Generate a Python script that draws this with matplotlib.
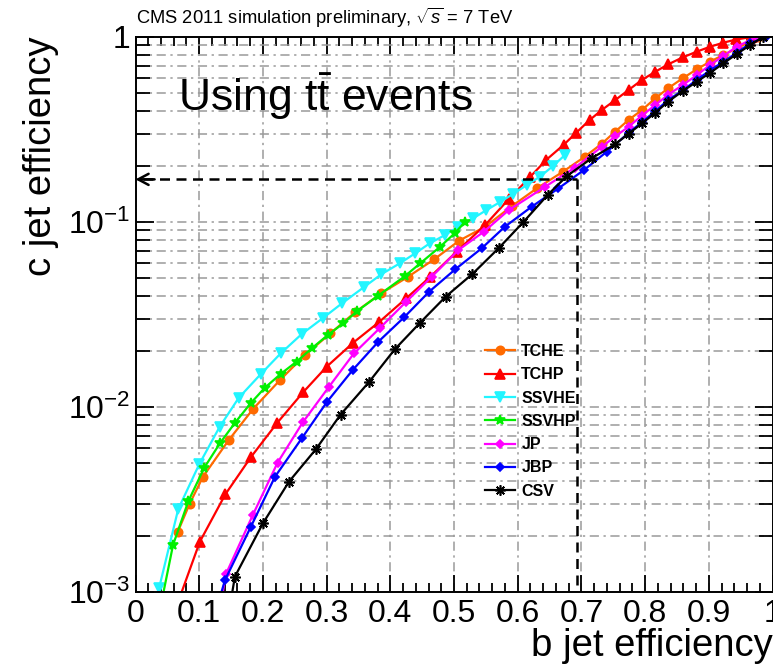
import matplotlib
matplotlib.use('Agg')
import matplotlib.pyplot as plt
from matplotlib import font_manager as fm
from matplotlib.ticker import FixedLocator, MultipleLocator, NullFormatter

# ---------------- data ----------------
tche_b = [0.066, 0.085, 0.106, 0.146, 0.185, 0.227, 0.266, 0.306, 0.345, 0.386, 0.428, 0.469, 0.508, 0.549,
          0.591, 0.630, 0.671, 0.705, 0.732, 0.753, 0.774, 0.795, 0.816, 0.836, 0.859, 0.881, 0.902, 0.923,
          0.944, 0.965, 0.978]
tche_c = [0.0021, 0.0030, 0.0042, 0.0066, 0.0098, 0.0140, 0.0191, 0.0250, 0.0326, 0.0412, 0.0506, 0.0629,
          0.0792, 0.0944, 0.122, 0.152, 0.187, 0.225, 0.265, 0.308, 0.356, 0.403, 0.466, 0.528, 0.598, 0.669,
          0.736, 0.800, 0.869, 0.944, 1.0]

tchp_b = [0.0725, 0.101, 0.141, 0.181, 0.222, 0.263, 0.300, 0.342, 0.383, 0.425, 0.463, 0.504, 0.549, 0.586,
          0.620, 0.645, 0.672, 0.692, 0.713, 0.732, 0.753, 0.774, 0.795, 0.816, 0.836, 0.859, 0.881, 0.902,
          0.923, 0.943, 0.968]
tchp_c = [0.0010, 0.00187, 0.00337, 0.00535, 0.00817, 0.0120, 0.0165, 0.0223, 0.0289, 0.0387, 0.0506, 0.0691,
          0.0964, 0.133, 0.176, 0.217, 0.261, 0.304, 0.356, 0.403, 0.456, 0.517, 0.586, 0.649, 0.711, 0.776,
          0.833, 0.886, 0.932, 0.970, 1.0]

ssvhe_b = [0.037, 0.067, 0.100, 0.132, 0.162, 0.197, 0.228, 0.261, 0.294, 0.324, 0.358, 0.386, 0.415, 0.439,
           0.462, 0.486, 0.507, 0.530, 0.551, 0.572, 0.593, 0.614, 0.635, 0.655, 0.674]
ssvhe_c = [0.00105, 0.0028, 0.0049, 0.0078, 0.0112, 0.0151, 0.0195, 0.0248, 0.0302, 0.0363, 0.0443, 0.0522,
           0.0598, 0.0677, 0.0767, 0.0851, 0.0944, 0.1047, 0.116, 0.128, 0.142, 0.158, 0.176, 0.200, 0.230]

ssvhp_b = [0.044, 0.059, 0.083, 0.108, 0.133, 0.156, 0.181, 0.203, 0.228, 0.253, 0.277, 0.302, 0.326, 0.348,
           0.381, 0.423, 0.447, 0.478, 0.502, 0.517]
ssvhp_c = [0.0010, 0.0018, 0.0031, 0.0047, 0.0064, 0.0082, 0.0105, 0.0127, 0.0151, 0.0176, 0.0208, 0.0245,
           0.0283, 0.0330, 0.0400, 0.0510, 0.0598, 0.0734, 0.0875, 0.100]

jp_b = [0.137, 0.142, 0.184, 0.223, 0.263, 0.304, 0.343, 0.384, 0.425, 0.465, 0.507, 0.547, 0.586, 0.643,
        0.690, 0.732, 0.753, 0.774, 0.795, 0.816, 0.836, 0.859, 0.881, 0.902, 0.923, 0.944, 0.975]
jp_c = [0.0010, 0.00125, 0.0026, 0.0050, 0.0083, 0.0129, 0.0195, 0.0268, 0.0371, 0.0506, 0.0706, 0.0887,
        0.116, 0.155, 0.197, 0.255, 0.290, 0.327, 0.376, 0.429, 0.487, 0.550, 0.622, 0.706, 0.790, 0.887, 1.0]

jbp_b = [0.135, 0.1405, 0.181, 0.219, 0.261, 0.301, 0.341, 0.381, 0.4215, 0.461, 0.502, 0.5435, 0.580, 0.622,
         0.664, 0.704, 0.740, 0.774, 0.795, 0.816, 0.836, 0.859, 0.881, 0.902, 0.923, 0.944, 0.965, 0.99]
jbp_c = [0.0010, 0.00116, 0.00225, 0.0042, 0.00677, 0.0107, 0.01585, 0.0225, 0.0305, 0.0420, 0.0555, 0.0721,
         0.0944, 0.121, 0.152, 0.191, 0.240, 0.303, 0.347, 0.397, 0.456, 0.514, 0.586, 0.660, 0.736, 0.822,
         0.925, 1.0]

csv_b = [0.152, 0.156, 0.200, 0.241, 0.283, 0.322, 0.367, 0.407, 0.447, 0.487, 0.529, 0.570, 0.609, 0.647,
         0.677, 0.716, 0.753, 0.774, 0.795, 0.816, 0.836, 0.859, 0.881, 0.902, 0.923, 0.944, 0.965, 0.985]
csv_c = [0.0010, 0.00121, 0.00235, 0.00395, 0.0059, 0.0091, 0.0137, 0.0205, 0.0286, 0.0395, 0.0524, 0.0721,
         0.100, 0.140, 0.177, 0.221, 0.263, 0.300, 0.341, 0.390, 0.447, 0.510, 0.573, 0.640, 0.721, 0.810,
         0.905, 1.0]

labels = ['TCHE', 'TCHP', 'SSVHE', 'SSVHP', 'JP', 'JBP', 'CSV']
x_ticks = [0, 0.1, 0.2, 0.3, 0.4, 0.5, 0.6, 0.7, 0.8, 0.9, 1]
x_tick_labels = ['0', '0.1', '0.2', '0.3', '0.4', '0.5', '0.6', '0.7', '0.8', '0.9', '1']
y_ticks = [1e-3, 1e-2, 1e-1, 1]
y_tick_labels = [r'$\mathregular{10^{-3}}$', r'$\mathregular{10^{-2}}$', r'$\mathregular{10^{-1}}$', '1']
cut_b = 0.693
cut_c = 0.17

# ---------------- style ----------------
names = {f.name for f in fm.fontManager.ttflist}
FONT = 'Liberation Sans' if 'Liberation Sans' in names else 'DejaVu Sans'
plt.rcParams['font.family'] = [FONT, 'DejaVu Sans']
plt.rcParams['mathtext.fontset'] = 'custom'
plt.rcParams['mathtext.rm'] = FONT
plt.rcParams['mathtext.it'] = FONT + ':italic'
plt.rcParams['mathtext.bf'] = FONT + ':bold'

W, H = 773, 665
fig = plt.figure(figsize=(W / 100, H / 100), dpi=100)
ax = fig.add_axes([135.5 / W, (H - 592) / H, 637 / W, 555 / H])

series = [
    (tche_b, tche_c, '#FF6A00', 'o', 6.0, False),
    (tchp_b, tchp_c, '#FF0000', '^', 6.5, True),
    (ssvhe_b, ssvhe_c, '#22F5FF', 'v', 6.5, False),
    (ssvhp_b, ssvhp_c, '#00F000', '*', 7.5, True),
    (jp_b, jp_c, '#FF00FF', 'D', 4.5, True),
    (jbp_b, jbp_c, '#0000FF', 'D', 4.5, True),
    (csv_b, csv_c, '#000000', (8, 2, 0), 7.5, True),
]
for (bx, cy, col, mk, ms, skip_first), lab in zip(series, labels):
    ax.plot(bx, cy, color=col, lw=1.6, marker=mk, ms=ms, mfc=col, mec=col, mew=1.2,
            markevery=slice(1 if skip_first else 0, None), label=lab)

ax.set_xlim(0, 1)
ax.set_yscale('log')
ax.set_ylim(1e-3, 1)

# ticks
ax.xaxis.set_major_locator(FixedLocator(x_ticks))
ax.xaxis.set_minor_locator(MultipleLocator(0.02))
ax.set_xticklabels(x_tick_labels)
ax.yaxis.set_major_locator(FixedLocator(y_ticks))
minors = [m * 10.0 ** e for e in (-3, -2, -1) for m in range(2, 10)]
ax.yaxis.set_minor_locator(FixedLocator(minors))
ax.yaxis.set_minor_formatter(NullFormatter())
ax.set_yticklabels(y_tick_labels)

ax.tick_params(which='both', direction='in', top=True, right=True, width=1.3, colors='black')
ax.tick_params(axis='x', which='major', length=12, pad=5, labelsize=23)
ax.tick_params(axis='x', which='minor', length=6.5)
ax.tick_params(axis='y', which='major', length=13, pad=4, labelsize=23)
ax.tick_params(axis='y', which='minor', length=10)
for s in ax.spines.values():
    s.set_linewidth(1.4)

# grid
gstyle = dict(color='#9a9a9a', linewidth=1.1, linestyle=(0, (6, 3, 1.5, 3)))
ax.grid(True, which='major', axis='x', **gstyle)
ax.grid(True, which='both', axis='y', **gstyle)
ax.set_axisbelow(True)

# working point lines
ax.plot([0.012, cut_b], [cut_c, cut_c], color='black', lw=1.8, dashes=(4, 2.6))
ax.plot([cut_b, cut_b], [cut_c, 1e-3], color='black', lw=1.8, dashes=(4, 2.6))
ax.annotate('', xy=(0.0, cut_c), xytext=(0.03, cut_c),
            arrowprops=dict(arrowstyle='->,head_length=0.75,head_width=0.4', lw=1.8, color='black',
                            shrinkA=0, shrinkB=0))

# texts
fig.text(136 / W, 1 - 18 / H, r'CMS 2011 simulation preliminary, $\sqrt{s}$ = 7 TeV', fontsize=13.2,
         ha='left', va='center')
ax.text(0.066, 0.892, r'Using t$\mathrm{\bar{t}}$ events', transform=ax.transAxes, fontsize=32,
        ha='left', va='center')
ax.set_xlabel('b jet efficiency', fontsize=27.5, ha='right', va='baseline')
ax.xaxis.set_label_coords(1.0, -(656 - 592) / 555)
ax.set_ylabel('c jet efficiency', fontsize=27.5, ha='right', y=1.0, labelpad=6)

leg = ax.legend(loc='upper left', bbox_to_anchor=(0.548, 0.447), frameon=False,
                prop=dict(weight='bold', size=11.5), handlelength=1.9, labelspacing=0.52,
                handletextpad=0.4, borderaxespad=0, borderpad=0)

fig.savefig('out.png', dpi=100)
